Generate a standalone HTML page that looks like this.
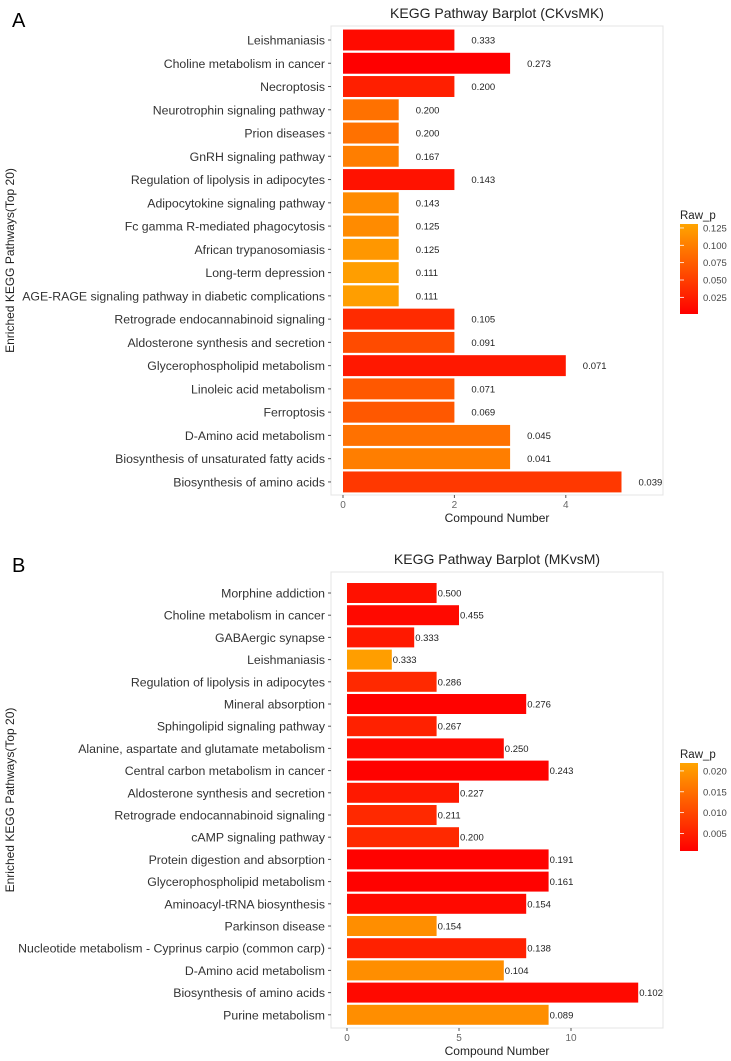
<!DOCTYPE html>
<html><head><meta charset="utf-8"><style>
body{margin:0;background:#fff}
svg{display:block;font-family:"Liberation Sans",Arial,sans-serif}
</style></head><body>
<svg id="svg" width="731" height="1061" viewBox="0 0 731 1061" xmlns="http://www.w3.org/2000/svg">
<defs>
<linearGradient id="gA" x1="0" y1="1" x2="0" y2="0"><stop offset="0" stop-color="#ff0000"/><stop offset="1" stop-color="#ffa500"/></linearGradient>
</defs>
<text x="12" y="27" font-size="20" fill="#000">A</text>
<text x="12" y="572" font-size="20" fill="#000">B</text>
</svg>
<script>
const catsA=["Leishmaniasis","Choline metabolism in cancer","Necroptosis","Neurotrophin signaling pathway","Prion diseases","GnRH signaling pathway","Regulation of lipolysis in adipocytes","Adipocytokine signaling pathway","Fc gamma R-mediated phagocytosis","African trypanosomiasis","Long-term depression","AGE-RAGE signaling pathway in diabetic complications","Retrograde endocannabinoid signaling","Aldosterone synthesis and secretion","Glycerophospholipid metabolism","Linoleic acid metabolism","Ferroptosis","D-Amino acid metabolism","Biosynthesis of unsaturated fatty acids","Biosynthesis of amino acids"];
const valsA=[2,3,2,1,1,1,2,1,1,1,1,1,2,2,4,2,2,3,3,5];
const pA=[0.01,0.001,0.025,0.09,0.09,0.1,0.015,0.11,0.11,0.12,0.125,0.125,0.035,0.06,0.02,0.07,0.07,0.09,0.1,0.045];
const lblA=["0.333","0.273","0.200","0.200","0.200","0.167","0.143","0.143","0.125","0.125","0.111","0.111","0.105","0.091","0.071","0.071","0.069","0.045","0.041","0.039"];
const ticksA=[0,2,4];
const legA=[0.125,0.100,0.075,0.050,0.025];

const catsB=["Morphine addiction","Choline metabolism in cancer","GABAergic synapse","Leishmaniasis","Regulation of lipolysis in adipocytes","Mineral absorption","Sphingolipid signaling pathway","Alanine, aspartate and glutamate metabolism","Central carbon metabolism in cancer","Aldosterone synthesis and secretion","Retrograde endocannabinoid signaling","cAMP signaling pathway","Protein digestion and absorption","Glycerophospholipid metabolism","Aminoacyl-tRNA biosynthesis","Parkinson disease","Nucleotide metabolism - Cyprinus carpio (common carp)","D-Amino acid metabolism","Biosynthesis of amino acids","Purine metabolism"];
const valsB=[4,5,3,2,4,8,4,7,9,5,4,5,9,9,8,4,8,7,13,9];
const pB=[0.003,0.002,0.004,0.021,0.006,0.001,0.005,0.002,0.001,0.004,0.006,0.006,0.001,0.001,0.002,0.019,0.005,0.019,0.002,0.019];
const lblB=["0.500","0.455","0.333","0.333","0.286","0.276","0.267","0.250","0.243","0.227","0.211","0.200","0.191","0.161","0.154","0.154","0.138","0.104","0.102","0.089"];
const ticksB=[0,5,10];
const legB=[0.020,0.015,0.010,0.005];

const svg=document.getElementById('svg');
const NS="http://www.w3.org/2000/svg";
function mk(tag,attrs,txt){const e=document.createElementNS(NS,tag);for(const k in attrs)e.setAttribute(k,attrs[k]);if(txt!==undefined)e.textContent=txt;svg.appendChild(e);return e;}
function col(t){t=Math.max(0,Math.min(1,t));const g=Math.round(165*t);return `rgb(255,${g},0)`;}

function panel(cfg){
  const {cats,vals,ps,lbls,ticks,leg,title,top,bottom,x0,ppu,y0,pitch,lblOff,pmin,pmax,cbTop,cbBot,id}=cfg;
  const left=331,right=663;
  const xs=v=>x0+v*ppu;
  const ys=i=>y0+i*pitch;
  let e=mk('text',{x:(left+right)/2,y:top-8,'font-size':14,'text-anchor':'middle',fill:'#222'},title);
  
  
  e=mk('rect',{x:left,y:top,width:right-left,height:bottom-top,fill:'#fff',stroke:'#e4e4e4','stroke-width':1});
  
  
  cats.forEach((c,i)=>{
    const y=ys(i);
    let t=mk('text',{x:left-6,y:y+4.5,'font-size':12.3,'text-anchor':'end',fill:'#333'},c);
    
    
    let tk=mk('line',{x1:left-3,x2:left,y1:y,y2:y,stroke:'#555'});
    
    
    const pn=(ps[i]-pmin)/(pmax-pmin);
    let b=mk('rect',{x:xs(0),y:y-pitch*0.45,width:xs(vals[i])-xs(0),height:pitch*0.9,fill:col(pn)});
    
    
    let l=mk('text',{x:xs(vals[i])+lblOff,y:y+3.5,'font-size':9.5,fill:'#222'},lbls[i]);
    
    
  });
  ticks.forEach(v=>{
    let tk=mk('line',{x1:xs(v),x2:xs(v),y1:bottom,y2:bottom+3,stroke:'#555'});
    
    
    let t=mk('text',{x:xs(v),y:bottom+13,'font-size':10,'text-anchor':'middle',fill:'#666'},String(v));
    
    
  });
  e=mk('text',{x:(left+right)/2,y:bottom+27,'font-size':12,'text-anchor':'middle',fill:'#222'},'Compound Number');
  
  
  const cy=(top+bottom)/2;
  e=mk('text',{x:14,y:cy,'font-size':12,'text-anchor':'middle',fill:'#222',transform:`rotate(-90 14 ${cy})`},'Enriched KEGG Pathways(Top 20)');
  
  
  // legend
  e=mk('text',{x:680,y:cbTop-5,'font-size':11.5,fill:'#222'},'Raw_p');
  
  
  e=mk('rect',{x:680,y:cbTop,width:18,height:cbBot-cbTop,fill:'url(#gA)'});
  
  
  const cyv=p=>cbBot-(p-pmin)/(pmax-pmin)*(cbBot-cbTop);
  leg.forEach(p=>{
    let t=mk('text',{x:703,y:cyv(p)+3.5,'font-size':9.5,fill:'#444'},p.toFixed(3));
    
    
    let l=mk('line',{x1:680,x2:684,y1:cyv(p),y2:cyv(p),stroke:'#fff','stroke-width':0.8});
    
    
  });
}
panel({cats:catsA,vals:valsA,ps:pA,lbls:lblA,ticks:ticksA,leg:legA,title:'KEGG Pathway Barplot (CKvsMK)',
  top:26,bottom:495,x0:343,ppu:55.7,y0:40,pitch:23.26,lblOff:17,pmin:0.001,pmax:0.1307,cbTop:224,cbBot:314,id:'panel-a'});
panel({cats:catsB,vals:valsB,ps:pB,lbls:lblB,ticks:ticksB,leg:legB,title:'KEGG Pathway Barplot (MKvsM)',
  top:572,bottom:1028,x0:347,ppu:22.4,y0:593,pitch:22.2,lblOff:1,pmin:0.0008,pmax:0.0219,cbTop:763,cbBot:851,id:'panel-b'});
</script>
</body></html>
